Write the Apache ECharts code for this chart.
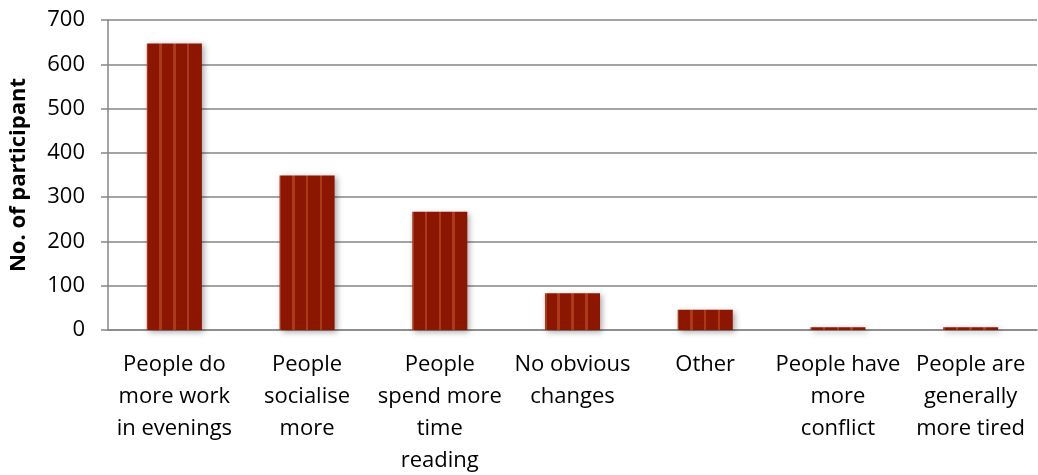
<!DOCTYPE html>
<html>
<head>
<meta charset="utf-8">
<script src="https://cdn.jsdelivr.net/npm/echarts@6/dist/echarts.min.js"></script>
<style>
  html, body { margin: 0; padding: 0; background: #fff; }
  #chart { width: 1038px; height: 475px; }
</style>
</head>
<body>
<div id="chart"></div>
<script>
// Reported changes, with line breaks for the wrapped axis labels
const categories = [
  'People do\nmore work\nin evenings',
  'People\nsocialise\nmore',
  'People\nspend more\ntime\nreading',
  'No obvious\nchanges',
  'Other',
  'People have\nmore\nconflict',
  'People are\ngenerally\nmore tired'
];
const participants = [647, 349, 267, 83, 46, 6, 6];
const yTicks = { min: 0, max: 700, interval: 100 };

const base = '#8c1600';
const stripe = '#ab3a18';
// Vertical striping across each bar, hard colour stops
function stripedFill() {
  const stops = [];
  const w = 0.045;
  const centers = [0.25, 0.5, 0.75];
  stops.push({ offset: 0, color: stripe });
  stops.push({ offset: 0.03, color: stripe });
  stops.push({ offset: 0.03, color: base });
  centers.forEach(c => {
    stops.push({ offset: c - w / 2, color: base });
    stops.push({ offset: c - w / 2, color: stripe });
    stops.push({ offset: c + w / 2, color: stripe });
    stops.push({ offset: c + w / 2, color: base });
  });
  stops.push({ offset: 1, color: base });
  return new echarts.graphic.LinearGradient(0, 0, 1, 0, stops);
}

const chart = echarts.init(document.getElementById('chart'), null, { renderer: 'canvas' });
const font = '"Open Sans", Lato, sans-serif';

chart.setOption({
  animation: false,
  grid: { left: 108, right: 1, top: 20, bottom: 145, containLabel: false, outerBoundsMode: 'none' },
  xAxis: {
    type: 'category',
    data: categories,
    axisLine: { show: true, lineStyle: { color: '#868686', width: 1.5 } },
    axisTick: { show: false },
    axisLabel: {
      interval: 0,
      color: '#000',
      fontFamily: font,
      fontSize: 22,
      lineHeight: 32,
      margin: 19,
      align: 'center',
      hideOverlap: false
    }
  },
  yAxis: {
    type: 'value',
    min: yTicks.min,
    max: yTicks.max,
    interval: yTicks.interval,
    name: 'No. of participant',
    nameLocation: 'middle',
    nameGap: 78,
    nameRotate: 90,
    nameTextStyle: { color: '#000', fontFamily: font, fontSize: 22, fontWeight: 'bold' },
    axisLine: { show: true, lineStyle: { color: '#868686', width: 1.5 } },
    axisTick: { show: true, inside: false, length: 7, lineStyle: { color: '#868686', width: 1.5 } },
    axisLabel: { color: '#000', fontFamily: font, fontSize: 22, margin: 23 },
    splitLine: { show: true, lineStyle: { color: '#868686', width: 1.5 } }
  },
  series: [{
    type: 'bar',
    data: participants,
    barWidth: '41.5%',
    itemStyle: {
      color: stripedFill(),
      shadowColor: 'rgba(0,0,0,0.35)',
      shadowBlur: 6,
      shadowOffsetX: 2,
      shadowOffsetY: 2
    }
  }]
});
</script>
</body>
</html>
